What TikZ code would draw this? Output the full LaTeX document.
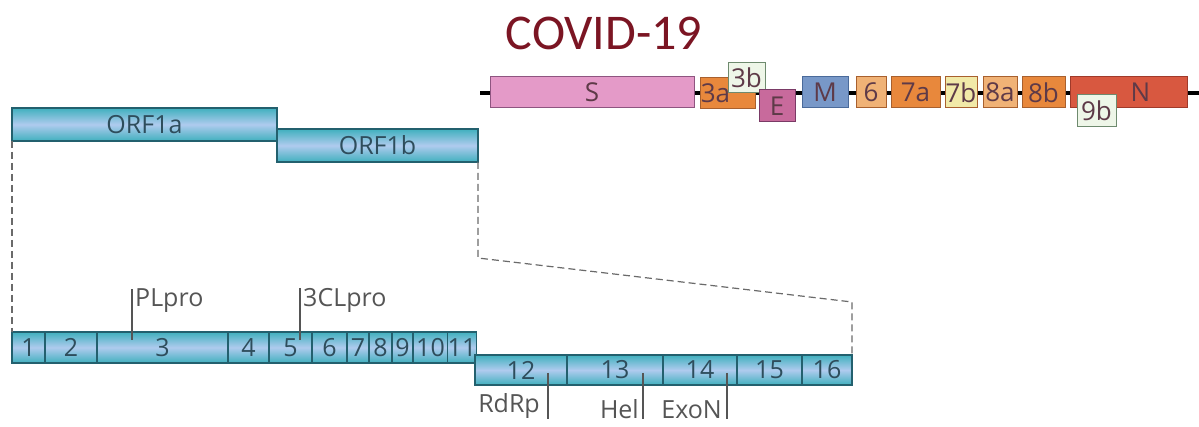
\documentclass[tikz,border=0pt]{standalone}
\usepackage{fontspec}
\setmainfont{Open Sans}
\newfontfamily\titlefont{Carlito}
\usetikzlibrary{positioning}

\definecolor{covidRed}{HTML}{7B1523}
\definecolor{segTeal}{HTML}{40B0BE}
\definecolor{segBlue}{HTML}{AFCBEE}
\definecolor{segLine}{HTML}{23606E}
\definecolor{segText}{HTML}{2E4D5C}
\definecolor{geneText}{HTML}{5E3A48}
\definecolor{tickGray}{HTML}{555555}
\definecolor{dashGray}{HTML}{6A6A6A}
\definecolor{labelGray}{HTML}{555555}
\definecolor{sPink}{HTML}{E49AC8}
\definecolor{sLine}{HTML}{8E5580}
\definecolor{orfOrange}{HTML}{E8883C}
\definecolor{orfLight}{HTML}{F0B276}
\definecolor{orfLine}{HTML}{A8602E}
\definecolor{paleYellow}{HTML}{F1E9A8}
\definecolor{paleGreen}{HTML}{EEF6E8}
\definecolor{paleLine}{HTML}{6E8A6E}
\definecolor{eMauve}{HTML}{C86A9C}
\definecolor{eLine}{HTML}{7A3A66}
\definecolor{mBlue}{HTML}{7898C8}
\definecolor{mLine}{HTML}{4A6A9A}
\definecolor{nRed}{HTML}{D85840}
\definecolor{nLine}{HTML}{A03A2A}

\begin{document}
\begin{tikzpicture}[
  x=1pt, y=-1pt,
  seg/.style={draw=segLine, line width=1.2pt, top color=segTeal, bottom color=segTeal, middle color=segBlue,
    minimum height=31pt, inner sep=0pt, outer sep=0pt, text=segText, font=\fontsize{25}{25}\selectfont},
  gene/.style={draw, line width=1pt, inner sep=0pt, outer sep=0pt, minimum height=31pt,
    text=geneText, font=\fontsize{26}{26}\selectfont},
  tick/.style={draw=tickGray, line width=1.3pt},
  zoomline/.style={draw=dashGray, dash pattern=on 7pt off 4pt, line width=1.2pt},
  protein/.style={inner sep=0pt, text=labelGray, font=\fontsize{25}{25}\selectfont}
]
\path[fill=white, use as bounding box] (0,0) rectangle (1199,427);

\node[text=covidRed, font=\titlefont\fontsize{50}{50}\selectfont] (title) at (604,33) {COVID-19};

% genome
\coordinate (gStart) at (480,93);
\coordinate (gEnd) at (1199,93);
\draw[line width=4pt] (gStart) -- (gEnd);

\node[gene, fill=sPink, draw=sLine, minimum width=204pt] (geneS) at (592,92.5) {S};
\node[gene, fill=orfOrange, draw=orfLine, minimum width=55pt, label={[text=geneText, font=\fontsize{26}{26}\selectfont, xshift=-12pt]center:3a}] (gene3a) at (727.5,93) {};
\node[gene, fill=paleGreen, draw=paleLine, minimum width=37pt, minimum height=30pt] (gene3b) at (746.5,78) {3b};
\node[gene, fill=eMauve, draw=eLine, minimum width=36pt, minimum height=32pt] (geneE) at (777,106) {E};
\node[gene, fill=mBlue, draw=mLine, minimum width=46pt] (geneM) at (825,92.5) {M};
\node[gene, fill=orfLight, draw=orfLine, minimum width=30pt] (gene6) at (871,92.5) {6};
\node[gene, fill=orfOrange, draw=orfLine, minimum width=49pt] (gene7a) at (915.5,92.5) {7a};
\node[gene, fill=paleYellow, draw=orfLine, minimum width=32pt] (gene7b) at (961,92.5) {7b};
\node[gene, fill=orfLight, draw=orfLine, minimum width=34pt] (gene8a) at (1000,92.5) {8a};
\node[gene, fill=orfOrange, draw=orfLine, minimum width=43pt] (gene8b) at (1043.5,92.5) {8b};
\node[gene, fill=nRed, draw=nLine, minimum width=117pt, label={[text=geneText, font=\fontsize{26}{26}\selectfont, xshift=12pt]center:N}] (geneN) at (1128.5,92.5) {};
\node[gene, fill=paleGreen, draw=paleLine, minimum width=39pt, minimum height=32pt] (gene9b) at (1096.5,111) {9b};

% ORF1a / ORF1b
\node[seg, minimum width=265pt, minimum height=33pt] (orf1a) at (144.5,124.5) {ORF1a};
\node[seg, minimum width=201pt, minimum height=33pt] (orf1b) at (377.5,145.5) {ORF1b};

% nsp 1-11
\node[seg, minimum width=33pt] (nsp1) at (28.5,347.5) {1};
\node[seg, minimum width=52pt] (nsp2) at (71,347.5) {2};
\node[seg, minimum width=131pt] (nsp3) at (162.5,347.5) {3};
\node[seg, minimum width=41pt] (nsp4) at (248.5,347.5) {4};
\node[seg, minimum width=43pt] (nsp5) at (290.5,347.5) {5};
\node[seg, minimum width=35pt] (nsp6) at (329.5,347.5) {6};
\node[seg, minimum width=22pt] (nsp7) at (358,347.5) {7};
\node[seg, minimum width=23pt] (nsp8) at (380.5,347.5) {8};
\node[seg, minimum width=21pt] (nsp9) at (402.5,347.5) {9};
\node[seg, minimum width=35pt] (nsp10) at (430.5,347.5) {10};
\node[seg, minimum width=28pt] (nsp11) at (462,347.5) {11};

% nsp 12-16
\node[seg, minimum width=92pt, minimum height=30pt] (nsp12) at (521,370) {12};
\node[seg, minimum width=96pt, minimum height=30pt] (nsp13) at (615,370) {13};
\node[seg, minimum width=74pt, minimum height=30pt] (nsp14) at (700,370) {14};
\node[seg, minimum width=65pt, minimum height=30pt] (nsp15) at (769.5,370) {15};
\node[seg, minimum width=50pt, minimum height=30pt] (nsp16) at (827,370) {16};

% zoom lines
\coordinate (bendA) at (478,258);
\coordinate (bendB) at (852,302);
\draw[zoomline] (orf1a.south west) -- (nsp1.north west);
\draw[zoomline] (orf1b.south east) -- (bendA) -- (bendB) -- (nsp16.north east);

% protein domains
\node[protein, anchor=south west] (plpro) at (135,313) {PLpro};
\node[protein, anchor=south west] (clpro) at (303,313) {3CLpro};
\node[protein, anchor=south east] (rdrp) at (540,419) {RdRp};
\node[protein, anchor=south east] (hel) at (639,419) {Hel};
\node[protein, anchor=south east] (exon) at (722,419) {ExoN};

\coordinate (plproTip) at (132,340);
\coordinate (clproTip) at (300,340);
\coordinate (rdrpTip) at (548,373);
\coordinate (helTip) at (643,373);
\coordinate (exonTip) at (727,373);
\draw[tick] (plproTip) -- (plproTip |- plpro.north);
\draw[tick] (clproTip) -- (clproTip |- clpro.north);
\draw[tick] (rdrpTip) -- (rdrpTip |- rdrp.south);
\draw[tick] (helTip) -- (helTip |- hel.south);
\draw[tick] (exonTip) -- (exonTip |- exon.south);

\end{tikzpicture}
\end{document}
